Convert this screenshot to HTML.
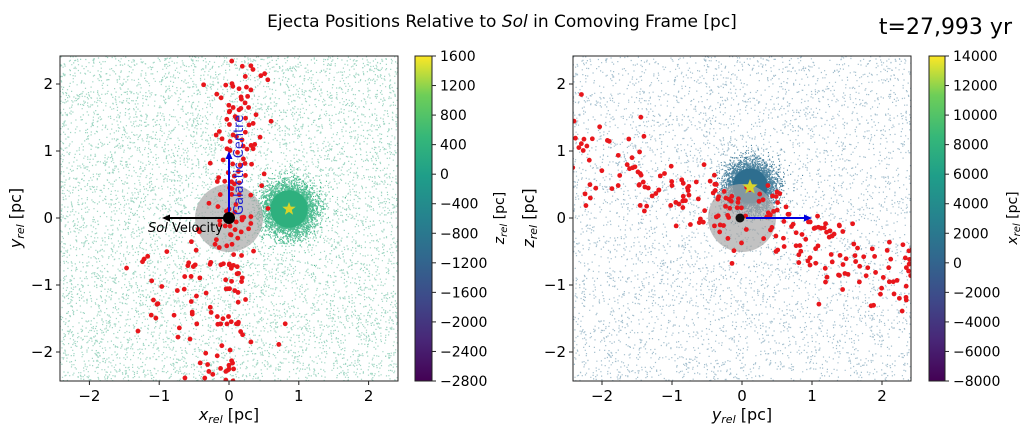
<!DOCTYPE html>
<html><head><meta charset="utf-8"><style>
body{margin:0;background:#fff;width:1024px;height:432px;overflow:hidden}
svg{display:block;font-family:"DejaVu Sans","Liberation Sans",sans-serif}
</style></head><body>
<svg id="s" width="1024" height="432" viewBox="0 0 1024 432" xmlns="http://www.w3.org/2000/svg">
<defs>
<linearGradient id="vir" x1="0" y1="1" x2="0" y2="0">
<stop offset="0" stop-color="#440154"/><stop offset="0.13" stop-color="#482878"/><stop offset="0.25" stop-color="#3e4989"/><stop offset="0.38" stop-color="#31688e"/><stop offset="0.5" stop-color="#26828e"/><stop offset="0.63" stop-color="#1f9e89"/><stop offset="0.75" stop-color="#35b779"/><stop offset="0.88" stop-color="#6ece58"/><stop offset="1" stop-color="#fde725"/>
</linearGradient>
<clipPath id="c1"><rect x="60" y="56" width="338" height="325"/></clipPath>
<clipPath id="c2"><rect x="573" y="56" width="338" height="325"/></clipPath>
</defs>
<text x="502" y="27" font-size="17" text-anchor="middle">Ejecta Positions Relative to <tspan font-style="italic">Sol</tspan> in Comoving Frame [pc]</text>
<text x="1012" y="34" font-size="22" text-anchor="end">t=27,993 yr</text>
<g id="p1" clip-path="url(#c1)"></g>
<g id="p2" clip-path="url(#c2)"></g>
<g id="ov"></g>
<rect x="60" y="56" width="338" height="325" fill="none" stroke="#222" stroke-width="1"/>
<rect x="573" y="56" width="338" height="325" fill="none" stroke="#222" stroke-width="1"/>
<rect x="415" y="56" width="17" height="325" fill="url(#vir)" stroke="#222" stroke-width="1"/>
<rect x="929" y="56" width="16" height="325" fill="url(#vir)" stroke="#222" stroke-width="1"/>
<g id="ax" font-size="15"></g>
<text x="229" y="420" font-size="16" text-anchor="middle"><tspan font-style="italic">x</tspan><tspan font-size="11" font-style="italic" dy="3">rel</tspan><tspan dy="-3"> [pc]</tspan></text>
<text x="742" y="420" font-size="16" text-anchor="middle"><tspan font-style="italic">y</tspan><tspan font-size="11" font-style="italic" dy="3">rel</tspan><tspan dy="-3"> [pc]</tspan></text>
<text transform="translate(21,218) rotate(-90)" font-size="16" text-anchor="middle"><tspan font-style="italic">y</tspan><tspan font-size="11" font-style="italic" dy="3">rel</tspan><tspan dy="-3"> [pc]</tspan></text>
<text transform="translate(534,218) rotate(-90)" font-size="16" text-anchor="middle"><tspan font-style="italic">z</tspan><tspan font-size="11" font-style="italic" dy="3">rel</tspan><tspan dy="-3"> [pc]</tspan></text>
<text transform="translate(504,218) rotate(-90)" font-size="14" text-anchor="middle"><tspan font-style="italic">z</tspan><tspan font-size="10" font-style="italic" dy="3">rel</tspan><tspan dy="-3"> [pc]</tspan></text>
<text transform="translate(1017,218) rotate(-90)" font-size="14" text-anchor="middle"><tspan font-style="italic">x</tspan><tspan font-size="10" font-style="italic" dy="3">rel</tspan><tspan dy="-3"> [pc]</tspan></text>
</svg>
<script>
var NS="http://www.w3.org/2000/svg";
var seed=12345;function r(){seed=(seed*1103515245+12345)%2147483648;return seed/2147483648;}
function g(){return Math.sqrt(-2*Math.log(r()+1e-9))*Math.cos(2*Math.PI*r());}
function el(p,t,a){var e=document.createElementNS(NS,t);for(var k in a)e.setAttribute(k,a[k]);p.appendChild(e);return e;}
function plot(id,x0,sx,bg,cl,cx,cy,cr,reds){
 var p=document.getElementById(id);var y0=218,sy=67;
 var s="";
 for(var i=0;i<8000;i++){var x=x0-2.5*sx+r()*5*sx,y=y0-2.5*sy+r()*5*sy;s+="M"+x.toFixed(1)+" "+y.toFixed(1)+"h1.2v1.2h-1.2z";}
 el(p,"path",{d:s,fill:bg,opacity:0.5});
 el(p,"circle",{cx:cx,cy:cy,r:cr*0.65,fill:cl});
 s="";
 for(var i=0;i<6000;i++){var x=cx+g()*cr*0.45,y=cy+g()*cr*0.45;s+="M"+x.toFixed(1)+" "+y.toFixed(1)+"h1.1v1.1h-1.1z";}
 el(p,"path",{d:s,fill:cl,opacity:0.85});
 el(p,"circle",{cx:x0,cy:y0,r:34,fill:"#a8a8a8",opacity:0.7});
 reds(p,x0,sx,y0,sy);
}
function red(p,x,y){el(p,"circle",{cx:x,cy:y,r:2.4,fill:"#e8161b"});}
plot("p1",229,69.8,"#3fae88","#2eb07e",289,209,29,function(p,x0,sx,y0,sy){
 for(var i=0;i<190;i++){var t=-2.5+r()*5;var x=0.02+0.07*t+g()*0.25,y=t;red(p,x0+x*sx,y0-y*sy);}
 for(var i=0;i<22;i++){var x=-0.5-r()*1.1,y=-0.5-r()*1.3;red(p,x0+x*sx,y0-y*sy);}
});
plot("p2",742,70,"#4a7f9e","#2e6e8f",750,186,27,function(p,x0,sx,y0,sy){
 for(var i=0;i<230;i++){var t=-2.5+r()*5;var x=t,y=-0.42*t+0.05+g()*0.33;red(p,x0+x*sx,y0-y*sy);}
});
var ov=document.getElementById("ov");
el(ov,"line",{x1:229,y1:218,x2:168,y2:218,stroke:"#000","stroke-width":2});
el(ov,"path",{d:"M162 218l8-3.5v7z",fill:"#000"});
el(ov,"line",{x1:229,y1:218,x2:229,y2:158,stroke:"#0000e0","stroke-width":2});
el(ov,"path",{d:"M229 151l-3.5 8h7z",fill:"#0000e0"});
el(ov,"circle",{cx:229,cy:218,r:6,fill:"#000"});
var t=el(ov,"text",{transform:"translate(243,215) rotate(-90)","font-size":"13",fill:"#2020d0"});t.textContent="Galactic Centre";
t=el(ov,"text",{x:148,y:232,"font-size":"13"});t.innerHTML='<tspan font-style="italic">Sol</tspan> Velocity';
function star(cx,cy,R){var d="";for(var i=0;i<10;i++){var a=-Math.PI/2+i*Math.PI/5,rr=i%2?R*0.42:R;d+=(i?"L":"M")+(cx+rr*Math.cos(a)).toFixed(1)+" "+(cy+rr*Math.sin(a)).toFixed(1);}el(ov,"path",{d:d+"z",fill:"#d8d42a"});}
star(289,209,7);star(750,187,8);
el(ov,"line",{x1:746,y1:218,x2:805,y2:218,stroke:"#0000e0","stroke-width":2});
el(ov,"path",{d:"M812 218l-8-3.5v7z",fill:"#0000e0"});
el(ov,"circle",{cx:740,cy:218,r:4.5,fill:"#111"});
var ax=document.getElementById("ax");
function tk(x1,y1,x2,y2){el(ax,"line",{x1:x1,y1:y1,x2:x2,y2:y2,stroke:"#222","stroke-width":1});}
function tx(x,y,s,a,f){var e=el(ax,"text",{x:x,y:y,"text-anchor":a});if(f)e.setAttribute("font-size",f);e.textContent=s;}
[[229,69.8],[742,70]].forEach(function(P,k){
 var L=k?573:60;
 for(var v=-2;v<=2;v++){var x=P[0]+v*P[1];tk(x,381,x,385);tx(x,401,(v<0?"\u2212":"")+Math.abs(v),"middle");
  var y=218-v*67;tk(L,y,L-4,y);tx(L-7,y+5,(v<0?"\u2212":"")+Math.abs(v),"end");}
});
for(var i=0;i<12;i++){var y=56+i*325/11;
 tk(432,y,436,y);var v=1600-400*i;tx(440,y+5,(v<0?"\u2212":"")+Math.abs(v),"start",14);
 tk(945,y,949,y);v=14000-2000*i;tx(953,y+5,(v<0?"\u2212":"")+Math.abs(v),"start",14);}
</script>
</body></html>
